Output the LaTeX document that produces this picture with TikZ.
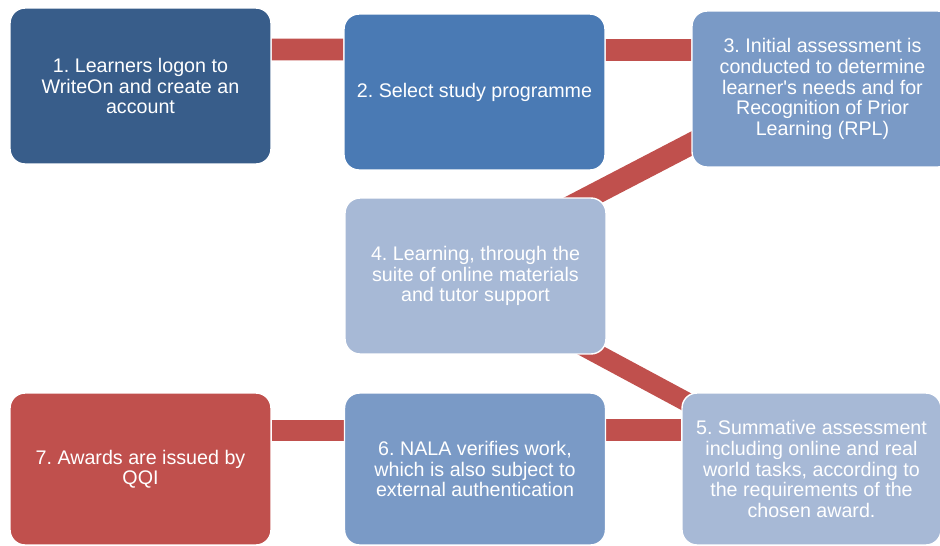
\documentclass[tikz,border=0pt]{standalone}
\usepackage{fontspec}
\setmainfont{Liberation Sans}
\usetikzlibrary{backgrounds}
\definecolor{darkstage}{HTML}{385D8A}
\definecolor{midstage}{HTML}{4A7AB4}
\definecolor{softstage}{HTML}{7A9AC6}
\definecolor{paleStage}{HTML}{A7B9D6}
\definecolor{awardred}{HTML}{C0504D}
\tikzset{stage/.style={rounded corners=0.3cm, draw=white, line width=0.8pt, text=white, align=center,
  minimum width=5.22cm, minimum height=3.12cm, inner sep=0pt, font=\fontsize{11.2}{11.7}\selectfont\frenchspacing},
%bottom row is a bit shorter
lowstage/.style={stage, minimum height=3.04cm},
link/.style={draw=awardred, line width=12.5pt}}

\begin{document}
\begin{tikzpicture}[x=0.02cm, y=-0.02cm]
\useasboundingbox (0,0) rectangle (940,545);
\clip (0,0) rectangle (940,545);

% top row
\node[stage, fill=darkstage] (b1) at (140.5,86) {1. Learners logon to\\WriteOn and create an\\account};
\node[stage, fill=midstage] (b2) at (474.5,92) {2. Select study programme};
\node[stage, fill=softstage] (b3) at (822.5,89) {3. Initial assessment is\\conducted to determine\\learner\textquotesingle s needs and for\\Recognition of Prior\\Learning (RPL)};

% middle
\node[stage, fill=paleStage] (b4) at (475.5,276) {4. Learning, through the\\suite of online materials\\and tutor support};

% bottom row
\node[lowstage, fill=paleStage, minimum width=5.18cm] (b5) at (811.5,469) {5. Summative assessment\\including online and real\\world tasks, according to\\the requirements of the\\chosen award.};
\node[lowstage, fill=softstage] (b6) at (475,469) {6. NALA verifies work,\\which is also subject to\\external authentication};
\node[lowstage, fill=awardred] (b7) at (140.5,469) {7. Awards are issued by\\QQI};

%links
\begin{scope}[on background layer]
\draw[link] ([yshift=0.73cm]b1.east) -- ([yshift=0.85cm]b2.west);
\draw[link] ([yshift=0.84cm]b2.east) -- ([yshift=0.78cm]b3.west);
\draw[link] ([yshift=0.27cm]b3.center) -- ([yshift=0.4cm]b4.center);
\draw[link, line width=11pt] ([yshift=-0.25cm]b4.center) -- (b5.center);
\draw[link] ([yshift=0.78cm]b5.west) -- ([yshift=0.78cm]b6.east);
\draw[link] ([yshift=0.77cm]b6.west) -- ([yshift=0.77cm]b7.east);
\end{scope}
\end{tikzpicture}
\end{document}
